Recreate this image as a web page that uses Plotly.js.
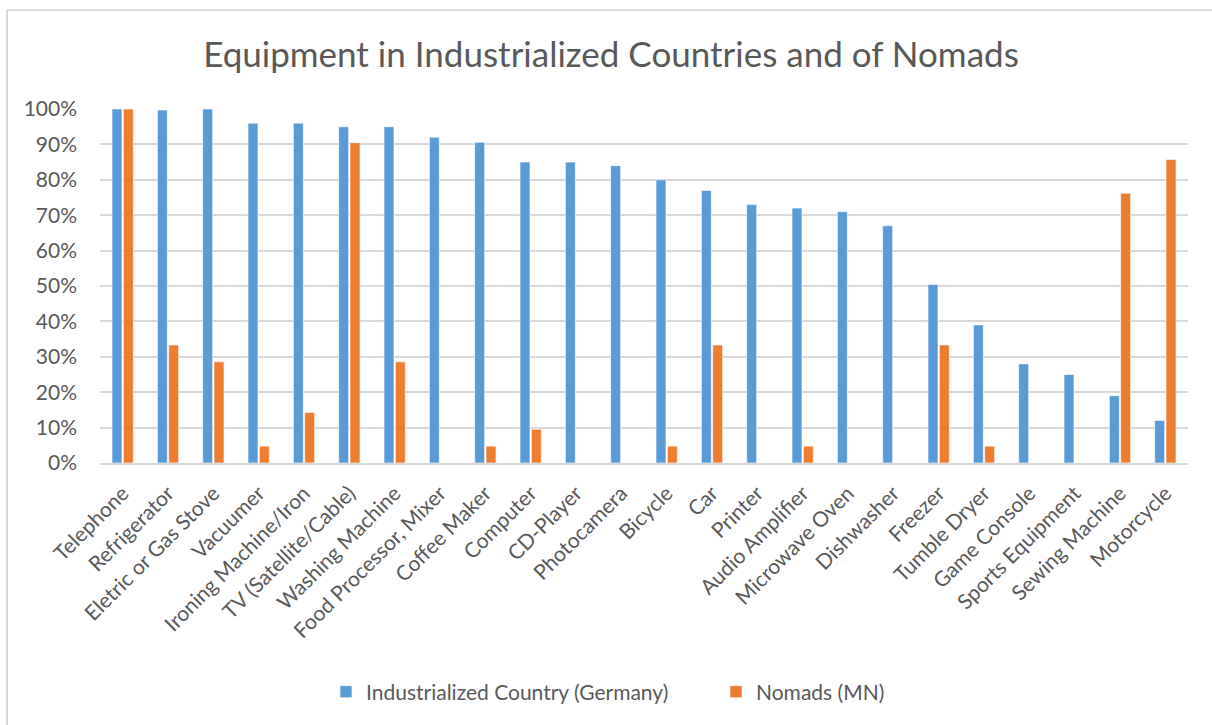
<!DOCTYPE html>
<html>
<head>
<meta charset="utf-8">
<script src="https://cdn.plot.ly/plotly-3.0.1.min.js"></script>
<style>
  html, body { margin: 0; padding: 0; background: #fff; }
  #chart { width: 1212px; height: 725px; }
</style>
</head>
<body>
<div id="chart"></div>
<script>
const categories = [
  "Telephone", "Refrigerator", "Eletric or Gas Stove", "Vacuumer",
  "Ironing Machine/Iron", "TV (Satellite/Cable)", "Washing Machine",
  "Food Processor, Mixer", "Coffee Maker", "Computer", "CD-Player",
  "Photocamera", "Bicycle", "Car", "Printer", "Audio Amplifier",
  "Microwave Oven", "Dishwasher", "Freezer", "Tumble Dryer",
  "Game Console", "Sports Equipment", "Sewing Machine", "Motorcycle"
];
const germany = [1.00, 0.997, 1.00, 0.96, 0.96, 0.95, 0.95, 0.92, 0.906, 0.85, 0.85,
  0.84, 0.80, 0.77, 0.73, 0.72, 0.71, 0.67, 0.504, 0.39, 0.28, 0.25, 0.19, 0.12];
const nomads = [1.00, 0.3333, 0.2857, 0.0476, 0.1429, 0.9048, 0.2857, 0, 0.0476, 0.0952, 0,
  0, 0.0476, 0.3333, 0, 0.0476, 0, 0, 0.3333, 0.0476, 0, 0, 0.7619, 0.8571];
const seriesNames = ["Industrialized Country (Germany)", "Nomads (MN)"];
const yTicks = [0, 0.1, 0.2, 0.3, 0.4, 0.5, 0.6, 0.7, 0.8, 0.9, 1.0];

const FONT = "Lato, 'Open Sans', sans-serif";
const GRAY = "#595959";

const traces = [
  { type: "bar", name: seriesNames[0], x: categories, y: germany,
    marker: { color: "#5B9BD5", line: { color: "#ffffff", width: 0.6 } }, hoverinfo: "x+y" },
  { type: "bar", name: seriesNames[1], x: categories, y: nomads,
    marker: { color: "#ED7D31", line: { color: "#ffffff", width: 0.6 } }, hoverinfo: "x+y" }
];

// plot area: x 100..1188, y 109..463
const L = 100, R = 1188, T = 109, B = 463, W = 1212, H = 725;
const px = v => (v - L) / (R - L);
const py = v => (B - v) / (B - T);

const layout = {
  width: W, height: H,
  margin: { l: L, r: W - R, t: T, b: H - B, pad: 0, autoexpand: false },
  paper_bgcolor: "#ffffff", plot_bgcolor: "#ffffff",
  font: { family: FONT, color: GRAY, size: 21 },
  title: { text: "Equipment in Industrialized Countries and of Nomads",
    font: { family: FONT, size: 35, color: GRAY },
    x: px(611), xref: "paper", xanchor: "center", y: 1 - 55 / H, yref: "container", yanchor: "middle" },
  barmode: "group", bargap: 0.5, bargroupgap: 0.12,
  xaxis: { type: "category", tickmode: "array", tickvals: categories, ticktext: categories,
    tickangle: -45, tickfont: { size: 21, color: GRAY },
    showgrid: false, showline: true, linecolor: "#D9D9D9", linewidth: 1.5,
    ticks: "", ticklabelstandoff: 8, automargin: false },
  yaxis: { range: [0, 1.0], tickvals: yTicks, tickformat: ".0%",
    tickfont: { size: 21, color: GRAY }, showgrid: true, gridcolor: "#D9D9D9", gridwidth: 1.5,
    zeroline: false, showline: false, ticks: "", ticklabelstandoff: 22, automargin: false },
  legend: { orientation: "h", x: px(326), xref: "paper", xanchor: "left", y: py(692), yanchor: "middle",
    font: { size: 21, color: GRAY }, itemwidth: 30, traceorder: "normal",
    entrywidth: 345, entrywidthmode: "pixels" },
  shapes: [
    { type: "line", xref: "paper", yref: "paper", x0: px(7), x1: px(7), y0: py(10), y1: py(725),
      line: { color: "#D9D9D9", width: 2 } },
    { type: "line", xref: "paper", yref: "paper", x0: px(7), x1: px(1212), y0: py(10), y1: py(10),
      line: { color: "#D9D9D9", width: 2 } }
  ]
};

Plotly.newPlot("chart", traces, layout, { displayModeBar: false, responsive: false });
</script>
</body>
</html>
